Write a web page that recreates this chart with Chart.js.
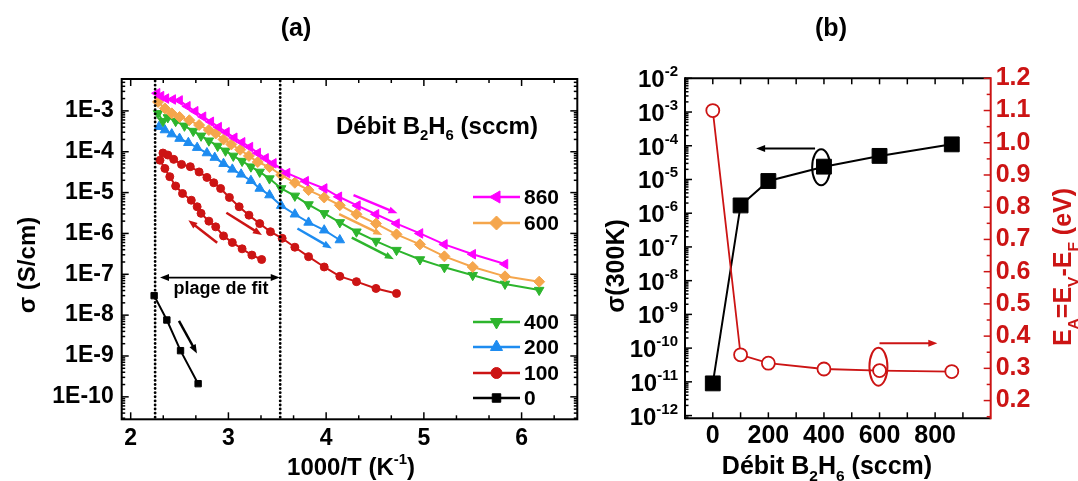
<!DOCTYPE html>
<html>
<head>
<meta charset="utf-8">
<script src="https://cdn.jsdelivr.net/npm/chart.js@4.4.1/dist/chart.umd.min.js"></script>
<style>
  body { margin: 0; background: #fff; }
  #wrap { position: relative; width: 1078px; height: 481px; overflow: hidden; }
  canvas { position: absolute; top: 0; }
  #ca { left: 0; }
  #cb { left: 600px; }
</style>
</head>
<body>
<div id="wrap">
  <canvas id="ca" width="600" height="481"></canvas>
  <canvas id="cb" width="478" height="481"></canvas>
</div>
<script>
// ---- panel (a) : sigma vs 1000/T, one pair of arrays per B2H6 flow ----
const x860 = [2.27, 2.31, 2.36, 2.43, 2.50, 2.58, 2.66, 2.74, 2.82, 2.90, 2.98, 3.06, 3.14, 3.22, 3.30, 3.38, 3.46, 3.60, 3.79, 3.98, 4.13, 4.32, 4.51, 4.72, 4.96, 5.21, 5.50, 5.83];
const s860 = [2.7e-3, 2.3e-3, 2.0e-3, 1.9e-3, 1.8e-3, 1.3e-3, 9.8e-4, 7.2e-4, 5.4e-4, 4.0e-4, 3.0e-4, 2.2e-4, 1.7e-4, 1.3e-4, 9.3e-5, 6.9e-5, 5.2e-5, 3.0e-5, 1.9e-5, 1.26e-5, 7.9e-6, 4.8e-6, 2.95e-6, 1.74e-6, 1.0e-6, 5.4e-7, 3.1e-7, 1.78e-7];

const x600 = [2.28, 2.35, 2.42, 2.50, 2.60, 2.70, 2.80, 2.87, 2.95, 3.03, 3.12, 3.21, 3.30, 3.42, 3.54, 3.68, 3.82, 3.98, 4.14, 4.31, 4.51, 4.72, 4.96, 5.21, 5.50, 5.83, 6.18];
const s600 = [1.66e-3, 1.15e-3, 8.7e-4, 7.1e-4, 5.9e-4, 4.5e-4, 3.4e-4, 2.8e-4, 2.0e-4, 1.51e-4, 1.12e-4, 7.9e-5, 5.6e-5, 4.2e-5, 2.7e-5, 1.74e-5, 1.15e-5, 7.6e-6, 4.9e-6, 2.95e-6, 1.74e-6, 9.5e-7, 5.4e-7, 2.75e-7, 1.51e-7, 8.9e-8, 6.6e-8];

const x400 = [2.28, 2.33, 2.38, 2.46, 2.55, 2.64, 2.72, 2.80, 2.89, 2.97, 3.05, 3.14, 3.23, 3.32, 3.42, 3.54, 3.68, 3.82, 3.98, 4.14, 4.31, 4.51, 4.72, 4.96, 5.21, 5.50, 5.83, 6.18];
const s400 = [8.7e-4, 5.6e-4, 6.9e-4, 5.6e-4, 4.3e-4, 3.2e-4, 2.45e-4, 1.86e-4, 1.38e-4, 1.05e-4, 7.9e-5, 5.9e-5, 4.3e-5, 3.2e-5, 2.2e-5, 1.26e-5, 8.3e-6, 5.1e-6, 3.1e-6, 1.86e-6, 1.1e-6, 6.5e-7, 3.9e-7, 2.3e-7, 1.48e-7, 9.5e-8, 5.8e-8, 4.1e-8];

const x200 = [2.29, 2.35, 2.42, 2.50, 2.59, 2.68, 2.78, 2.86, 2.95, 3.04, 3.13, 3.23, 3.32, 3.42, 3.54, 3.68, 3.82, 3.98, 4.14];
const s200 = [4.1e-4, 3.4e-4, 2.7e-4, 2.1e-4, 1.66e-4, 1.26e-4, 9.3e-5, 7.2e-5, 5.1e-5, 3.7e-5, 2.8e-5, 1.95e-5, 1.26e-5, 8.7e-6, 4.8e-6, 2.95e-6, 1.86e-6, 1.2e-6, 6.9e-7];

// 100 sccm : heating branch (bottom) then cooling branch (top), in measurement order
const x100 = [3.34, 3.24, 3.14, 3.04, 2.95, 2.87, 2.80, 2.72, 2.68, 2.62, 2.53, 2.46, 2.40, 2.35, 2.30, 2.33, 2.38, 2.44, 2.52, 2.61, 2.70, 2.78, 2.85, 2.92, 3.01, 3.11, 3.21, 3.32, 3.43, 3.55, 3.68, 3.82, 3.98, 4.14, 4.31, 4.51, 4.72];
const s100 = [2.3e-7, 2.95e-7, 4.2e-7, 6.0e-7, 8.7e-7, 1.45e-6, 2.0e-6, 3.1e-6, 4.5e-6, 6.5e-6, 9.5e-6, 1.45e-5, 2.45e-5, 3.9e-5, 6.2e-5, 9.3e-5, 8.3e-5, 6.5e-5, 4.9e-5, 4.3e-5, 3.2e-5, 2.35e-5, 1.74e-5, 1.26e-5, 7.6e-6, 4.5e-6, 2.8e-6, 1.74e-6, 1.1e-6, 7.6e-7, 4.6e-7, 2.7e-7, 1.51e-7, 8.9e-8, 6.6e-8, 4.5e-8, 3.4e-8];

const x0 = [2.24, 2.37, 2.51, 2.69];
const s0 = [3.0e-8, 7.6e-9, 1.35e-9, 2.1e-10];

const flowNames = ['860', '600', '400', '200', '100', '0'];
const xTicksA = [2, 3, 4, 5, 6];
const yTicksA = [1e-10, 1e-9, 1e-8, 1e-7, 1e-6, 1e-5, 1e-4, 1e-3];
const yLabelsA = ['1E-10', '1E-9', '1E-8', '1E-7', '1E-6', '1E-5', '1E-4', '1E-3'];
const fitRange = [2.25, 3.53];

// ---- panel (b) : values at 300 K vs flow ----
const flows = [0, 100, 200, 400, 600, 860];
const sigma300 = [9e-12, 1.7e-6, 9.0e-6, 2.4e-5, 5.0e-5, 1.1e-4];
const activation = [1.10, 0.342, 0.316, 0.298, 0.293, 0.290];
const xTicksB = [0, 200, 400, 600, 800];
const yExpB = [-12, -11, -10, -9, -8, -7, -6, -5, -4, -3, -2];
const y2TicksB = [0.2, 0.3, 0.4, 0.5, 0.6, 0.7, 0.8, 0.9, 1.0, 1.1, 1.2];

const FONT = '"Liberation Sans", Arial, sans-serif';
const RED = '#CC1414';
const colors = { c860: '#FF00FF', c600: '#F5A64C', c400: '#2DB52D', c200: '#1E8CF0', c100: '#CC1414', c0: '#000000' };

function pts(xs, ys) {
  return xs.map((x, i) => ({ x: x, y: ys[i] }));
}

function mkSet(label, xs, ys, color, style, rot, r) {
  return {
    label: label, data: pts(xs, ys), showLine: true,
    borderColor: color, backgroundColor: color, borderWidth: 2,
    pointStyle: style, pointRotation: rot, pointRadius: r,
    pointBorderWidth: 1, pointBackgroundColor: color, pointBorderColor: color
  };
}

function line(ctx, x1, y1, x2, y2) {
  ctx.beginPath(); ctx.moveTo(x1, y1); ctx.lineTo(x2, y2); ctx.stroke();
}

function arrowHead(ctx, x1, y1, x2, y2, len, half) {
  // filled head at (x2,y2) pointing away from (x1,y1)
  const a = Math.atan2(y2 - y1, x2 - x1);
  ctx.beginPath();
  ctx.moveTo(x2, y2);
  ctx.lineTo(x2 - len * Math.cos(a) + half * Math.sin(a), y2 - len * Math.sin(a) - half * Math.cos(a));
  ctx.lineTo(x2 - len * Math.cos(a) - half * Math.sin(a), y2 - len * Math.sin(a) + half * Math.cos(a));
  ctx.closePath(); ctx.fill();
}

function arrow(ctx, x1, y1, x2, y2, color, w, both) {
  ctx.strokeStyle = color; ctx.fillStyle = color; ctx.lineWidth = w;
  const a = Math.atan2(y2 - y1, x2 - x1);
  const back = 6;
  line(ctx, both ? x1 + back * Math.cos(a) : x1, both ? y1 + back * Math.sin(a) : y1,
       x2 - back * Math.cos(a), y2 - back * Math.sin(a));
  arrowHead(ctx, x1, y1, x2, y2, 9, 3.5);
  if (both) arrowHead(ctx, x2, y2, x1, y1, 9, 3.5);
}

// text with sub (1) / sup (2) parts, y is the baseline
function rich(ctx, parts, x, y, size, align, color) {
  const fs = k => (k ? size * 0.62 : size);
  let w = 0;
  parts.forEach(([t, k]) => { ctx.font = 'bold ' + fs(k) + 'px ' + FONT; w += ctx.measureText(t).width; });
  let cx = align === 'center' ? x - w / 2 : (align === 'right' ? x - w : x);
  ctx.textAlign = 'left'; ctx.textBaseline = 'alphabetic'; ctx.fillStyle = color;
  parts.forEach(([t, k]) => {
    ctx.font = 'bold ' + fs(k) + 'px ' + FONT;
    const dy = k === 1 ? size * 0.26 : (k === 2 ? -size * 0.45 : 0);
    ctx.fillText(t, cx, y + dy);
    cx += ctx.measureText(t).width;
  });
}

function marker(ctx, ds, x, y, r) {
  ctx.fillStyle = ds.pointBackgroundColor; ctx.strokeStyle = ds.pointBorderColor;
  ctx.lineWidth = ds.pointBorderWidth;
  Chart.helpers.drawPoint(ctx, { pointStyle: ds.pointStyle, rotation: ds.pointRotation, radius: r, borderWidth: ds.pointBorderWidth }, x, y);
}

// ---------------- panel (a) ----------------
const decorA = {
  id: 'decorA',
  afterDraw(chart) {
    const { ctx, chartArea: ca, scales: { x, y } } = chart;
    ctx.save();
    // frame and inward ticks on all sides
    ctx.strokeStyle = '#000'; ctx.lineWidth = 2;
    ctx.strokeRect(ca.left, ca.top, ca.right - ca.left, ca.bottom - ca.top);
    ctx.lineWidth = 1.5;
    for (let k = 6; k <= 19; k++) {
      const v = k / 3;
      if (v < x.min || v > x.max) continue;
      const px = x.getPixelForValue(v);
      const len = k % 3 === 0 ? 7 : 4;
      line(ctx, px, ca.bottom, px, ca.bottom - len);
      line(ctx, px, ca.top, px, ca.top + len);
    }
    for (let e = -11; e <= -2; e++) {
      for (let m = 1; m <= 9; m++) {
        const v = m * Math.pow(10, e);
        if (v < y.min || v > y.max) continue;
        const py = y.getPixelForValue(v);
        const len = m === 1 ? 7 : 3.5;
        line(ctx, ca.left, py, ca.left + len, py);
        line(ctx, ca.right, py, ca.right - len, py);
      }
    }
    // fit range
    ctx.lineWidth = 2.8; ctx.lineCap = 'round'; ctx.setLineDash([0.1, 4]);
    fitRange.forEach(v => { const px = x.getPixelForValue(v); line(ctx, px, ca.top + 2, px, ca.bottom - 1); });
    ctx.setLineDash([]); ctx.lineCap = 'butt';
    const yFit = y.getPixelForValue(8.3e-8);
    arrow(ctx, x.getPixelForValue(2.30), yFit, x.getPixelForValue(3.525), yFit, '#000', 1.8, true);
    ctx.fillStyle = '#000'; ctx.font = 'bold 18px ' + FONT; ctx.textAlign = 'center'; ctx.textBaseline = 'alphabetic';
    ctx.fillText('plage de fit', 221, 294);

    // sweep direction arrows
    const dirs = [
      [2.494, 7.2e-9, 2.678, 1.15e-9, '#000'],
      [2.885, 5.9e-7, 2.59, 2.1e-6, colors.c100],
      [2.979, 3.2e-6, 3.343, 9.1e-7, colors.c100],
      [3.706, 1.32e-6, 4.058, 4.3e-7, colors.c200],
      [4.262, 7.9e-7, 4.693, 2.35e-7, colors.c400],
      [4.133, 2.95e-6, 4.575, 9.1e-7, colors.c600],
      [4.28, 8.7e-6, 4.73, 3.1e-6, colors.c860]
    ];
    dirs.forEach(d => arrow(ctx, x.getPixelForValue(d[0]), y.getPixelForValue(d[1]),
                                x.getPixelForValue(d[2]), y.getPixelForValue(d[3]), d[4], 2.5, false));

    // legend
    rich(ctx, [['Débit B', 0], ['2', 1], ['H', 0], ['6', 1], [' (sccm)', 0]], 336, 134, 24, 'left', '#000');
    const rows = [197, 223, 322, 347, 373, 398];
    chart.data.datasets.forEach((ds, i) => {
      const yy = rows[i];
      ctx.strokeStyle = ds.borderColor; ctx.lineWidth = 2.5;
      line(ctx, 473, yy, 520, yy);
      marker(ctx, ds, 496.5, yy, ds.pointRadius + 1.5);
      ctx.fillStyle = '#000'; ctx.font = 'bold 21px ' + FONT; ctx.textAlign = 'left'; ctx.textBaseline = 'middle';
      ctx.fillText(flowNames[i], 524, yy + 1);
    });

    // titles
    rich(ctx, [['(a)', 0]], 296, 36, 25, 'center', '#000');
    rich(ctx, [['1000/T (K', 0], ['-1', 2], [')', 0]], 351, 475, 24, 'center', '#000');
    ctx.translate(35, 265); ctx.rotate(-Math.PI / 2);
    rich(ctx, [['σ (S/cm)', 0]], 0, 0, 24, 'center', '#000');
    ctx.restore();
  }
};

new Chart(document.getElementById('ca'), {
  type: 'scatter',
  data: {
    datasets: [
      mkSet('860', x860, s860, colors.c860, 'triangle', -90, 5.5),
      mkSet('600', x600, s600, colors.c600, 'rectRot', 0, 5.5),
      mkSet('400', x400, s400, colors.c400, 'triangle', 180, 5.5),
      mkSet('200', x200, s200, colors.c200, 'triangle', 0, 5.5),
      mkSet('100', x100, s100, colors.c100, 'circle', 0, 4),
      mkSet('0', x0, s0, colors.c0, 'rect', 0, 4.5)
    ]
  },
  options: {
    responsive: false, animation: false, events: [],
    layout: { padding: { top: 79, right: 22.7, left: 0, bottom: 0 } },
    plugins: { legend: { display: false }, tooltip: { enabled: false } },
    scales: {
      x: {
        type: 'linear', min: 1.908, max: 6.57,
        afterBuildTicks: a => { a.ticks = xTicksA.map(v => ({ value: v })); },
        afterFit: s => { s.height = 61.7; },
        grid: { display: false, drawTicks: false }, border: { display: false },
        ticks: { autoSkip: false, maxRotation: 0, padding: 6, color: '#000', font: { family: FONT, size: 23, weight: 'bold' } }
      },
      y: {
        type: 'logarithmic', min: 2.82e-11, max: 6.03e-3,
        afterBuildTicks: a => { a.ticks = yTicksA.map(v => ({ value: v })); },
        afterFit: s => { s.width = 121.7; },
        grid: { display: false, drawTicks: false }, border: { display: false },
        ticks: { autoSkip: false, padding: 8, color: '#000', font: { family: FONT, size: 23, weight: 'bold' },
                 callback: (v, i) => yLabelsA[i] }
      }
    }
  },
  plugins: [decorA]
});

// ---------------- panel (b) ----------------
const decorB = {
  id: 'decorB',
  afterDraw(chart) {
    const { ctx, chartArea: ca, scales: { x, y, y2 } } = chart;
    ctx.save();
    ctx.lineWidth = 2; ctx.strokeStyle = '#000';
    line(ctx, ca.left, ca.top, ca.right, ca.top);
    line(ctx, ca.left, ca.bottom, ca.right, ca.bottom);
    line(ctx, ca.left, ca.top - 1, ca.left, ca.bottom + 1);
    ctx.strokeStyle = RED;
    line(ctx, ca.right, ca.top - 1, ca.right, ca.bottom + 1);

    ctx.lineWidth = 1.5; ctx.strokeStyle = '#000';
    for (let v = 0; v <= 900; v += 100) {
      const px = x.getPixelForValue(v);
      line(ctx, px, ca.bottom, px, ca.bottom - 6);
      line(ctx, px, ca.top, px, ca.top + 6);
    }
    for (let e = -13; e <= -2; e++) {
      for (let m = 1; m <= 9; m++) {
        const v = m * Math.pow(10, e);
        if (v < y.min || v > y.max * 1.0001) continue;
        const py = y.getPixelForValue(v);
        line(ctx, ca.left, py, ca.left + (m === 1 ? 7 : 3.5), py);
      }
    }
    ctx.strokeStyle = RED;
    for (let k = 3; k <= 24; k++) {
      const py = y2.getPixelForValue(k * 0.05);
      line(ctx, ca.right, py, ca.right - (k % 2 === 0 ? 7 : 4), py);
    }

    // left labels 10^n
    yExpB.forEach(e => {
      const py = y.getPixelForValue(Math.pow(10, e));
      ctx.font = 'bold 15px ' + FONT;
      const sw = ctx.measureText(String(e)).width;
      const right = ca.left - 7;
      ctx.fillStyle = '#000'; ctx.textAlign = 'left'; ctx.textBaseline = 'alphabetic';
      ctx.fillText(String(e), right - sw, py - 2);
      ctx.font = 'bold 24px ' + FONT; ctx.textAlign = 'right';
      ctx.fillText('10', right - sw, py + 9);
    });

    // annotations
    const yArrow = y.getPixelForValue(8.3e-5);
    arrow(ctx, x.getPixelForValue(368), yArrow, x.getPixelForValue(156), yArrow, '#000', 2, false);
    ctx.lineWidth = 2; ctx.strokeStyle = '#000';
    ctx.beginPath(); ctx.ellipse(x.getPixelForValue(390), y.getPixelForValue(2.3e-5), 9, 18, 0, 0, Math.PI * 2); ctx.stroke();
    const yArrow2 = y2.getPixelForValue(0.378);
    arrow(ctx, x.getPixelForValue(600), yArrow2, x.getPixelForValue(808), yArrow2, RED, 2, false);
    ctx.lineWidth = 2; ctx.strokeStyle = RED;
    ctx.beginPath(); ctx.ellipse(x.getPixelForValue(596), y2.getPixelForValue(0.305), 9, 19, 0, 0, Math.PI * 2); ctx.stroke();

    // titles
    rich(ctx, [['(b)', 0]], 231, 36, 25, 'center', '#000');
    rich(ctx, [['Débit B', 0], ['2', 1], ['H', 0], ['6', 1], [' (sccm)', 0]], 227, 474, 25, 'center', '#000');
    ctx.save();
    ctx.translate(24, 266); ctx.rotate(-Math.PI / 2);
    rich(ctx, [['σ(300K)', 0]], 0, 0, 25, 'center', '#000');
    ctx.restore();
    ctx.translate(471, 267); ctx.rotate(-Math.PI / 2);
    rich(ctx, [['E', 0], ['A', 1], ['=E', 0], ['V', 1], ['-E', 0], ['F', 1], [' (eV)', 0]], 0, 0, 25, 'center', RED);
    ctx.restore();
  }
};

new Chart(document.getElementById('cb'), {
  type: 'scatter',
  data: {
    datasets: [
      {
        label: 'EA', data: pts(flows, activation), yAxisID: 'y2', showLine: true,
        borderColor: RED, borderWidth: 1.8, pointStyle: 'circle', pointRadius: 6.5,
        pointBackgroundColor: '#fff', pointBorderColor: RED, pointBorderWidth: 1.8
      },
      {
        label: 'sigma', data: pts(flows, sigma300), yAxisID: 'y', showLine: true,
        borderColor: '#000', borderWidth: 2, pointStyle: 'rect', pointRadius: 10.5,
        pointBackgroundColor: '#000', pointBorderColor: '#000', pointBorderWidth: 1
      }
    ]
  },
  options: {
    responsive: false, animation: false, events: [],
    layout: { padding: { top: 78.3, right: 0, left: 0, bottom: 0 } },
    plugins: { legend: { display: false }, tooltip: { enabled: false } },
    scales: {
      x: {
        type: 'linear', min: -100, max: 1000,
        afterBuildTicks: a => { a.ticks = xTicksB.map(v => ({ value: v })); },
        afterFit: s => { s.height = 62.7; },
        grid: { display: false, drawTicks: false }, border: { display: false },
        ticks: { autoSkip: false, maxRotation: 0, padding: 3, color: '#000', font: { family: FONT, size: 25, weight: 'bold' } }
      },
      y: {
        type: 'logarithmic', position: 'left', min: 8.3e-13, max: 1e-2,
        afterFit: s => { s.width = 85; },
        grid: { display: false, drawTicks: false }, border: { display: false },
        ticks: { display: false }
      },
      y2: {
        type: 'linear', position: 'right', min: 0.145, max: 1.2,
        afterBuildTicks: a => { a.ticks = y2TicksB.map(v => ({ value: v })); },
        afterFit: s => { s.width = 87.3; },
        grid: { display: false, drawTicks: false }, border: { display: false },
        ticks: { autoSkip: false, padding: 5, color: RED, font: { family: FONT, size: 25, weight: 'bold' },
                 callback: v => v.toFixed(1) }
      }
    }
  },
  plugins: [decorB]
});
</script>
</body>
</html>
